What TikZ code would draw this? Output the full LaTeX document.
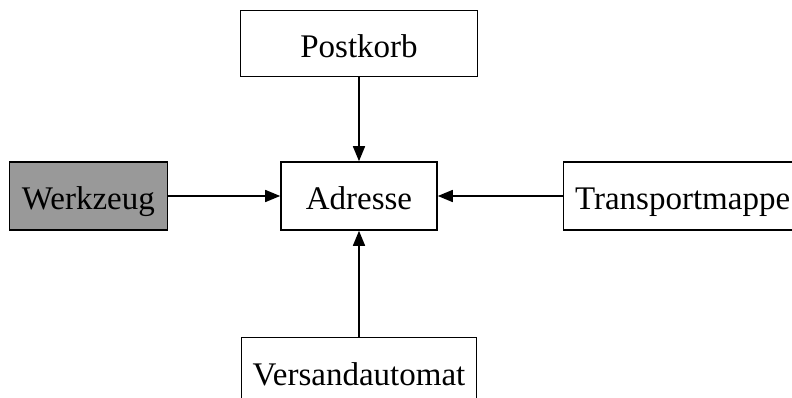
\documentclass[tikz,border=0pt]{standalone}
\usepackage{fontspec}
\setmainfont{Liberation Serif}
\usepackage{xcolor}
\usepackage{tikz}
\usetikzlibrary{arrows.meta,positioning}

\begin{document}
\begin{tikzpicture}[
    every node/.style={font=\fontsize{33}{36}\selectfont},
    box/.style={draw, line width=1.6pt, inner sep=0pt, minimum height=68pt, text height=28pt, text depth=0pt}
  ]
    \useasboundingbox (0,0) rectangle (792pt,-398pt);
    \node[box, minimum width=156pt] (adresse) at (359pt,-196pt) {Adresse};
    \node[box, minimum width=237pt, minimum height=66pt, above=84pt of adresse] (postkorb) {Postkorb};
    \node[box, minimum width=158pt, fill=black!40, left=112pt of adresse] (werkzeug) {Werkzeug};
    \node[box, minimum width=238pt, right=125pt of adresse] (mappe) {Transportmappe};
    \node[box, minimum width=235pt, below=106pt of adresse] (versand) {Versandautomat};
    \draw[line width=1.6pt, -{Triangle[length=15pt, width=12pt]}] (postkorb) -- (adresse);
    \draw[line width=1.6pt, -{Triangle[length=15pt, width=12pt]}] (werkzeug) -- (adresse);
    \draw[line width=1.6pt, -{Triangle[length=15pt, width=12pt]}] (mappe) -- (adresse);
    \draw[line width=1.6pt, -{Triangle[length=15pt, width=12pt]}] (versand) -- (adresse);
  \end{tikzpicture}
\end{document}
